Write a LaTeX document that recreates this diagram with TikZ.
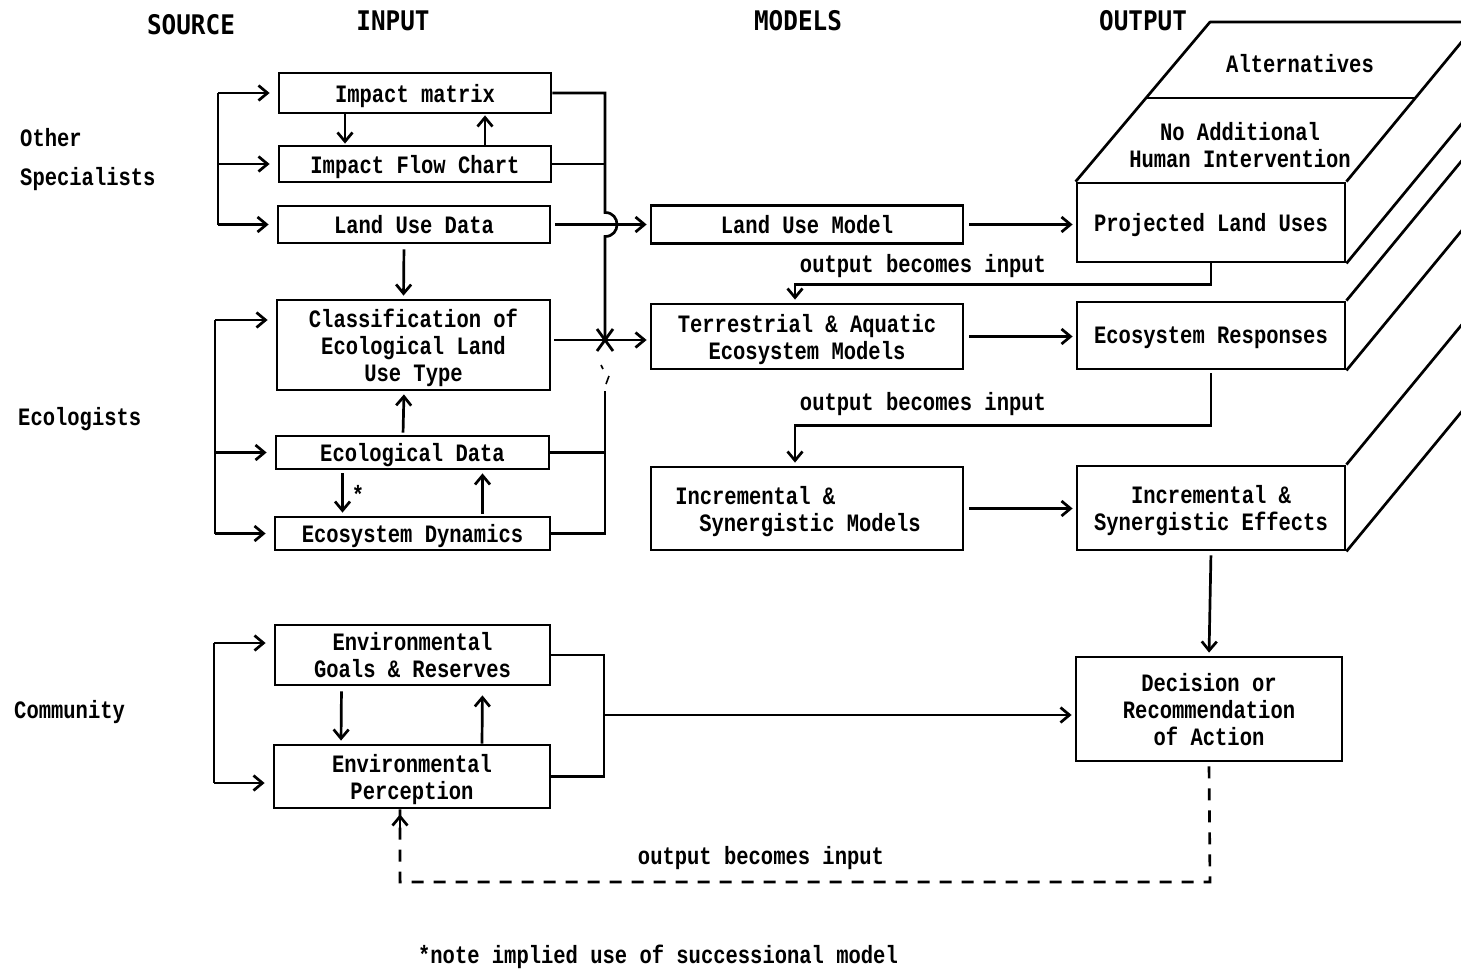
\documentclass[tikz,border=0pt]{standalone}
\usepackage{fontspec}
\newfontfamily\bodyfont{Liberation Mono}[FakeStretch=0.82, UprightFont=* Bold, BoldFont=* Bold]
\newfontfamily\headfont{DejaVu Sans Mono}[FakeStretch=0.9, UprightFont=* Bold, BoldFont=* Bold]
\usetikzlibrary{arrows.meta}
\begin{document}
\begin{tikzpicture}[x=1pt,y=-1pt,
  every node/.style={font=\bodyfont\fontsize{25}{27}\selectfont, inner sep=0pt},
  box/.style={draw, line width=2.8pt, align=center, text depth=0pt},
  head/.style={font=\headfont\fontsize{27}{27}\selectfont},
  ln/.style={line width=2.7pt},
  arr/.style={ln, -{Straight Barb[length=9pt,width=15pt]}, shorten >=3pt},
  fb/.style={ln, dash pattern=on 12pt off 10pt}]
\useasboundingbox (0,0) rectangle (1461,971);
\fill[white] (0,0) rectangle (1461,971);

% column headings
\node[head] (hS) at (191,25) {SOURCE};
\node[head] (hI) at (393,21) {INPUT};
\node[head] (hM) at (798,21) {MODELS};
\node[head] (hO) at (1143,21) {OUTPUT};

% sources
\node[anchor=west] (s1) at (20,138) {Other};
\node[anchor=west] (s2) at (20,179) {Specialists};
\node[anchor=west] (s3) at (18,419) {Ecologists};
\node[anchor=west] (s4) at (14,712) {Community};

% input boxes
\node[box, minimum width=272pt, minimum height=40pt] (im)  at (415,93)    {Impact matrix};
\node[box, minimum width=272pt, minimum height=36pt] (ifc) at (415,164)   {Impact Flow Chart};
\node[box, minimum width=272pt, minimum height=37pt] (lud) at (414,224.5) {Land Use Data};
\node[box, minimum width=273pt, minimum height=90pt] (cls) at (413.5,345) {Classification of\\Ecological Land\\Use Type};
\node[box, minimum width=273pt, minimum height=33pt] (ecd) at (412.5,452.5) {Ecological Data};
\node[box, minimum width=275pt, minimum height=33pt] (esd) at (412.5,533.5) {Ecosystem Dynamics};
\node[box, minimum width=275pt, minimum height=60pt] (egr) at (412.5,655) {Environmental\\Goals \& Reserves};
\node[box, minimum width=276pt, minimum height=63pt] (epc) at (412,776.5) {Environmental\\Perception};

% model boxes
\node[box, minimum width=312pt, minimum height=38pt] (lum) at (807,224.5) {Land Use Model};
\node[box, minimum width=312pt, minimum height=65pt] (tam) at (807,336.5) {Terrestrial \& Aquatic\\Ecosystem Models};
\node[box, minimum width=312pt, minimum height=83pt, align=left] (ism) at (807,508.5) {Incremental \&\hspace*{24pt}\\\hspace*{24pt}Synergistic Models\hspace*{18pt}};

% output boxes (front faces of the slab)
\node[box, minimum width=268pt, minimum height=79pt] (plu) at (1211,222.5) {Projected Land Uses};
\node[box, minimum width=268pt, minimum height=67pt] (ers) at (1211,335.5) {Ecosystem Responses};
\node[box, minimum width=268pt, minimum height=84pt] (ise) at (1211,508) {Incremental \&\\Synergistic Effects};
\node[box, minimum width=266pt, minimum height=104pt] (dec) at (1209,709) {Decision or\\Recommendation\\of Action};

% top face of the slab
\node (alt) at (1300,64) {Alternatives};
\node[align=center] (nohi) at (1240,145) {No Additional\\Human Intervention};
\begin{scope}
  \clip (0,0) rectangle (1461,971);
  \coordinate (tb) at (1210,22);
  \draw[ln, line join=round] (plu.north west) -- (tb) -- (1480,22);
  \draw[ln] (1147,98) -- (1415,98);
  \foreach \c in {plu.north east, plu.south east, ers.north east, ers.south east, ise.north east, ise.south east}
    \draw[ln] (\c) -- ++(160,-194);
\end{scope}

% source brackets
\coordinate (sL1) at (218,0);
\coordinate (sL2) at (215,0);
\draw[ln] (sL1 |- im.west) -- (sL1 |- lud.west);
\foreach \n in {im,ifc,lud} \draw[arr, shorten >=8pt] (sL1 |- \n.west) -- (\n.west);
\coordinate (e1) at (215,320);
\draw[ln] (e1) -- (sL2 |- esd.west);
\draw[arr, shorten >=8pt] (e1) -- (e1 -| cls.west);
\foreach \n in {ecd,esd} \draw[arr, shorten >=8pt] (sL2 |- \n.west) -- (\n.west);
\coordinate (c1) at (214,643);
\coordinate (c2) at (214,783);
\draw[ln] (c1) -- (c2);
\draw[arr, shorten >=8pt] (c1) -- (c1 -| egr.west);
\draw[arr, shorten >=8pt] (c2) -- (c2 -| epc.west);

% links between input boxes
\draw[arr, shorten >=1pt] ([xshift=-70pt]im.south) -- ([xshift=-70pt]ifc.north);
\draw[arr, shorten >=1pt] ([xshift=70pt]ifc.north) -- ([xshift=70pt]im.south);
\draw[arr, shorten <=5pt] ([xshift=-10pt]lud.south) -- ([xshift=-10pt]cls.north);
\draw[arr, shorten <=2pt] ([xshift=-9.5pt]ecd.north) -- ([xshift=-9.5pt]cls.south);
\draw[arr, shorten <=3pt] ([xshift=-70pt]ecd.south) -- ([xshift=-70pt]esd.north);
\node (star) at (358,494) {*};
\draw[arr, shorten <=2pt] ([xshift=70pt]esd.north) -- ([xshift=70pt]ecd.south);
\draw[arr, shorten <=5pt] ([xshift=-71pt]egr.south) -- ([xshift=-71pt]epc.north);
\draw[arr, shorten >=9pt] ([xshift=70pt]epc.north) -- ([xshift=70pt]egr.south);

% collecting line on the right of the inputs
\coordinate (bR) at (605,0);
\coordinate (hopA) at (605,212.5);
\coordinate (hopB) at (605,236.5);
\coordinate (xj) at (605,340);
\draw[ln] (im.east) -- (bR |- im.east) -- (hopA)
  .. controls (621,212.5) and (621,236.5) .. (hopB) -- (xj);
\draw[ln] (ifc.east) -- (bR |- ifc.east);
\draw[ln] (605,391) -- (bR |- esd.east) -- (esd.east);
\draw[ln] (ecd.east) -- (bR |- ecd.east);
\draw[line width=1.6pt] (601,365) -- (603,369);
\draw[line width=1.6pt] (606,384) -- (609,376);
\draw[line width=2.8pt] (597,329) -- (613,351);
\draw[line width=2.8pt] (613,329) -- (597,351);
\draw[arr, shorten <=4pt] (lud.east) -- (lum.west);
\coordinate (cj) at (550,340);
\draw[arr, shorten <=4pt] (cj) -- (cj -| tam.west);

% models to outputs
\draw[arr, shorten <=5pt] (lum.east) -- (plu.west |- lum.east);
\draw[arr, shorten <=5pt] (tam.east) -- (ers.west |- tam.east);
\draw[arr, shorten <=5pt] (ism.east) -- (ise.west |- ism.east);

% output becomes input
\draw[arr] (plu.south) -- ++(0,21) -| ([xshift=-12pt]tam.north);
\node (ob1) at (923,266) {output becomes input};
\draw[arr, shorten <=3pt] (ers.south) -- ++(0,55) -| ([xshift=-12pt]ism.north);
\node (ob2) at (923,404) {output becomes input};
\draw[arr, shorten <=4pt] (ise.south) -- (dec.north);

% community inputs to decision
\coordinate (bC) at (604,0);
\coordinate (cA) at (604,715);
\draw[ln] (egr.east) -- (bC |- egr.east) -- (bC |- epc.east) -- (epc.east);
\draw[arr] (cA) -- (cA -| dec.west);

% feedback to perception
\coordinate (fbR) at (1210,882);
\coordinate (fbL) at (400,882);
\draw[fb, shorten <=4pt] (dec.south) -- (fbR) -- (fbL) -- ([xshift=-12pt]epc.south);
\draw[arr, shorten >=5pt] (400,835) -- ([xshift=-12pt]epc.south);
\node (ob3) at (761,858) {output becomes input};

% footnote
\node (note) at (658,957) {*note implied use of successional model};
\end{tikzpicture}
\end{document}
